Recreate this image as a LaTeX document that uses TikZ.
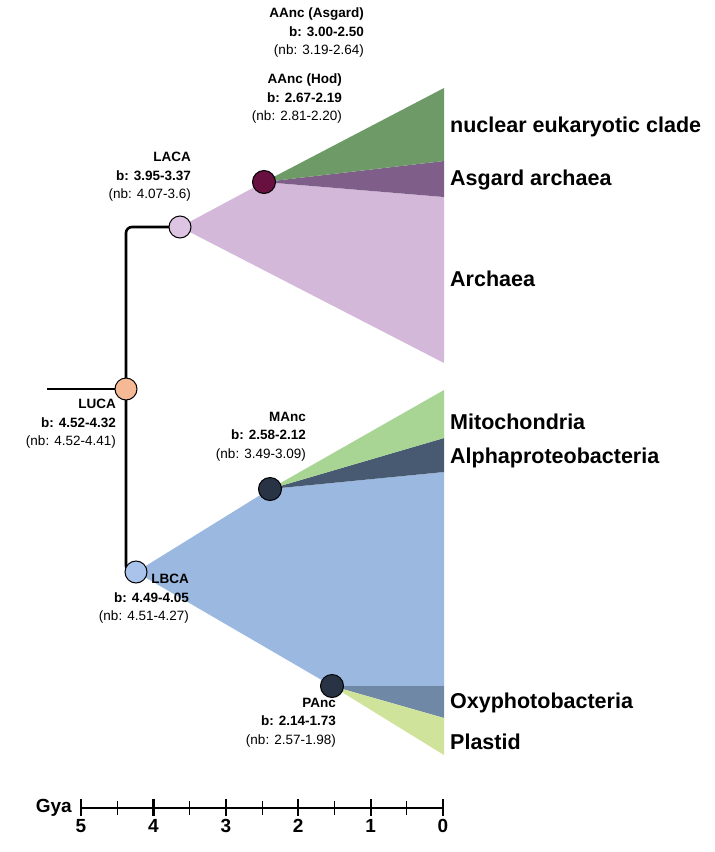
\documentclass[tikz,border=0pt]{standalone}
\usepackage{fontspec}
\setmainfont{Liberation Sans}
\begin{document}
\begin{tikzpicture}[x=1pt,y=-1pt,
  lab/.style={align=right,font=\fontsize{13.5}{18.5}\selectfont,inner sep=0pt},
  clade/.style={anchor=west,font=\fontsize{21.5}{22}\selectfont\bfseries,inner sep=0pt},
  nd/.style={circle,draw=black,line width=1pt,minimum size=22pt,inner sep=0pt},
  br/.style={line width=2.6pt,black}]
\useasboundingbox (0,0) rectangle (715,852);
\definecolor{cGreen}{HTML}{6E9A68}\definecolor{cDPurp}{HTML}{7F5F8A}
\definecolor{cLPurp}{HTML}{D3B8D9}\definecolor{cBlue}{HTML}{9AB8E0}
\definecolor{cLGreen}{HTML}{A8D494}\definecolor{cSlate}{HTML}{475A72}
\definecolor{cSlate2}{HTML}{6E88A6}\definecolor{cYG}{HTML}{CFE39A}
\coordinate (luca) at (126,389);
\coordinate (laca) at (180,227);
\coordinate (lbca) at (136,572);
\coordinate (aanc) at (264,182);
\coordinate (manc) at (270,489);
\coordinate (panc) at (332,686);
% fans
\fill[cLPurp] (laca) -- (aanc) -- (444,197) -- (444,363) -- cycle;
\fill[cDPurp] (aanc) -- (444,161) -- (444,197) -- cycle;
\fill[cGreen] (aanc) -- (444,88) -- (444,161) -- cycle;
\fill[cBlue] (lbca) -- (manc) -- (444,472) -- (444,686) -- (panc) -- cycle;
\fill[cSlate] (manc) -- (444,438) -- (444,472) -- cycle;
\fill[cLGreen] (manc) -- (444,390) -- (444,438) -- cycle;
\fill[cSlate2] (panc) -- (444,686) -- (444,718) -- cycle;
\fill[cYG] (panc) -- (444,718) -- (444,755) -- cycle;
% branches
\coordinate (root) at (47,389);
\coordinate (vtop) at (126,227);
\coordinate (vbot) at (126,572);
\draw[br] (root) -- (luca);
\draw[br,rounded corners=6pt] (laca) -- (vtop) -- (vbot) -- (lbca);
% nodes
\node[nd,fill={rgb,255:red,245;green,185;blue,149}] (LUCA) at (luca) {};
\node[nd,fill={rgb,255:red,220;green,196;blue,226}] (LACA) at (laca) {};
\node[nd,fill={rgb,255:red,169;green,195;blue,234}] (LBCA) at (lbca) {};
\node[nd,minimum size=23pt,fill={rgb,255:red,104;green,16;blue,64}] (AANC) at (aanc) {};
\node[nd,minimum size=23pt,fill={rgb,255:red,40;green,52;blue,70}] (MANC) at (manc) {};
\node[nd,minimum size=23pt,fill={rgb,255:red,40;green,52;blue,70}] (PANC) at (panc) {};
% labels
\node[lab,anchor=north east] (l1) at (364,8) {\textbf{AAnc (Asgard)}\\\textbf{b: 3.00-2.50}\\(nb: 3.19-2.64)};
\node[lab,anchor=north east] (l2) at (342,74) {\textbf{AAnc (Hod)}\\\textbf{b: 2.67-2.19}\\(nb: 2.81-2.20)};
\node[lab,anchor=north east] (l3) at (191,152) {\textbf{LACA}\\\textbf{b: 3.95-3.37}\\(nb: 4.07-3.6)};
\node[lab,anchor=north east] (l4) at (116,399) {\textbf{LUCA}\\\textbf{b: 4.52-4.32}\\(nb: 4.52-4.41)};
\node[lab,anchor=north east] (l5) at (306,412) {\textbf{MAnc}\\\textbf{b: 2.58-2.12}\\(nb: 3.49-3.09)};
\node[lab,anchor=north east] (l6) at (189,574) {\textbf{LBCA}\\\textbf{b: 4.49-4.05}\\(nb: 4.51-4.27)};
\node[lab,anchor=north east] (l7) at (336,698) {\textbf{PAnc}\\\textbf{b: 2.14-1.73}\\(nb: 2.57-1.98)};
\node[clade] (c1) at (450,127) {nuclear eukaryotic clade};
\node[clade] (c2) at (450,180) {Asgard archaea};
\node[clade] (c3) at (450,279) {Archaea};
\node[clade] (c4) at (450,422) {Mitochondria};
\node[clade] (c5) at (450,458) {Alphaproteobacteria};
\node[clade] (c6) at (450,703) {Oxyphotobacteria};
\node[clade] (c7) at (450,742) {Plastid};
% axis
\coordinate (a5) at (81,808);
\coordinate (a0) at (443,808);
\draw[line width=2.2pt] (a5) -- (a0);
\foreach \i in {0,...,5}{
  \draw[line width=2.2pt] (443-72.4*\i,799) -- (443-72.4*\i,816);
  \node[font=\fontsize{19}{19}\selectfont\bfseries,inner sep=0pt] at (443-72.4*\i,826) {\i};}
\foreach \i in {0,...,4}{
  \draw[line width=0.9pt] (443-72.4*\i-36.2,801) -- (443-72.4*\i-36.2,815);}
\node[font=\fontsize{19}{19}\selectfont\bfseries,anchor=east,inner sep=0pt] (gya) at (72,808) {Gya};
\end{tikzpicture}
\end{document}
